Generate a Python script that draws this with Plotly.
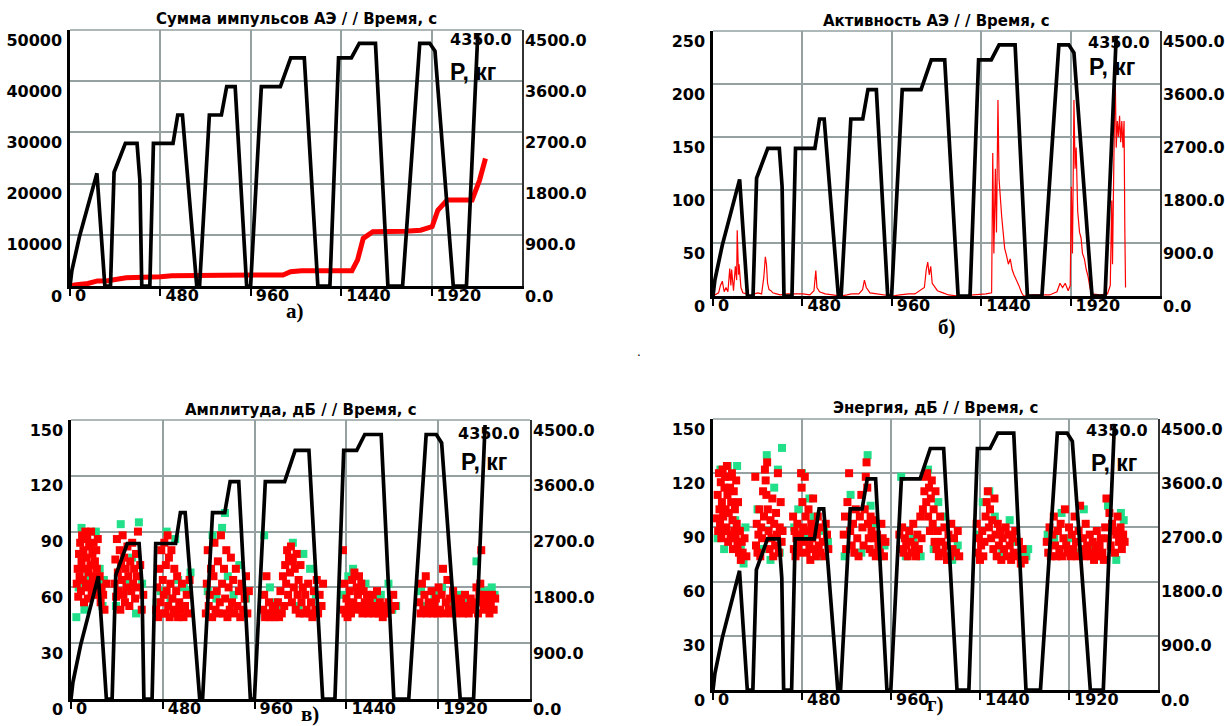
import plotly.graph_objects as go

W, H = 1225, 726

# ---------------- data ----------------
time_ticks = [0, 480, 960, 1440, 1920]
time_ticktext = ["0", "480", "960", "1440", "1920"]

load_ticks = [0, 900, 1800, 2700, 3600, 4500]
load_ticktext = ["0.0", "900.0", "1800.0", "2700.0", "3600.0", "4500.0"]

# load curve P (kg) vs time (s) -- same in every panel
load_t = [0, 10, 50, 143, 185, 215, 234, 294, 356, 371, 381, 424, 443, 547, 572, 597, 673,
          688, 740, 804, 832, 877, 938, 959, 1016, 1117, 1172, 1244, 1316, 1380, 1426, 1494,
          1536, 1622, 1688, 1766, 1857, 1910, 1938, 2035, 2105, 2165]
load_p = [0, 270, 865, 1980, 0, 0, 2000, 2508, 2508, 1860, 0, 0, 2508, 2508, 3006, 3006, 0,
          0, 3006, 3006, 3506, 3506, 0, 0, 3506, 3506, 4010, 4010, 0, 0, 4010, 4010,
          4266, 4266, 0, 0, 4266, 4266, 4130, 0, 0, 4420]

# a) cumulative AE pulse count
sum_t = [0, 24, 95, 146, 200, 298, 481, 540, 806, 1131, 1171, 1230, 1497, 1527, 1557, 1608,
         1780, 1862, 1923, 1953, 2003, 2135, 2175, 2206]
sum_v = [0, 200, 500, 1000, 1040, 1600, 1800, 2000, 2100, 2150, 2800, 3000, 3000, 5100, 9300,
         10600, 10700, 10900, 11600, 14800, 16800, 16800, 20700, 24900]

# b) AE activity
act_t = [0, 20, 30, 40, 50, 60, 70, 80, 90, 96, 100, 110, 120, 127, 130, 137, 140, 150, 160,
         180, 200, 221, 241, 261, 273, 281, 287, 293, 301, 311, 321, 341, 361, 400, 442, 482,
         520, 542, 552, 558, 572, 602, 642, 683, 720, 743, 783, 803, 813, 823, 843, 884, 924,
         960, 1004, 1050, 1084, 1135, 1145, 1153, 1161, 1169, 1177, 1185, 1205, 1235, 1265,
         1320, 1406, 1440, 1466, 1496, 1502, 1508, 1516, 1522, 1530, 1536, 1542, 1550, 1558,
         1566, 1576, 1586, 1596, 1606, 1616, 1630, 1642, 1657, 1668, 1720, 1807, 1847, 1863,
         1877, 1891, 1907, 1918, 1924, 1930, 1938, 1944, 1950, 1958, 1968, 1976, 1984, 1994,
         2004, 2014, 2024, 2032, 2080, 2118, 2133, 2141, 2145, 2153, 2159, 2165, 2171, 2177,
         2183, 2189, 2195, 2201, 2207, 2211, 2215]
act_v = [0, 2, 3, 10, 14, 4, 8, 4, 26, 10, 25, 5, 28, 15, 62, 20, 30, 8, 3,
         2, 0, 2, 3, 2, 18, 37, 30, 12, 6, 5, 3, 2, 1, 2, 2, 2,
         1, 5, 24, 8, 4, 2, 1, 0, 1, 2, 2, 6, 15, 8, 3, 2, 1,
         0, 1, 2, 2, 8, 25, 32, 20, 28, 12, 10, 5, 3, 1,
         0, 1, 2, 2, 3, 135, 40, 120, 60, 185, 110, 90, 75, 60,
         45, 38, 30, 35, 25, 20, 15, 10, 3, 0, 1, 1, 4, 12,
         8, 12, 5, 10, 103, 40, 185, 120, 140, 80, 60, 55, 40, 35,
         25, 18, 8, 2, 1, 2, 10, 90, 30, 150, 215, 140, 165, 150,
         170, 145, 165, 140, 165, 65, 8]

# c) amplitude, dB  (red / green events)
amp_red = [
    (30, 62), (35, 70), (38, 55), (42, 78), (45, 66), (48, 84), (52, 58), (55, 74), (58, 88), (62, 64),
    (65, 80), (68, 52), (72, 70), (75, 90), (78, 60), (82, 76), (85, 86), (88, 54), (92, 68), (95, 82),
    (98, 62), (102, 72), (105, 90), (108, 58), (112, 78), (115, 66), (118, 84), (122, 56), (125, 74),
    (128, 62), (132, 80), (135, 70), (140, 86), (145, 58), (150, 66), (155, 52), (160, 60), (168, 56),
    (175, 48), (185, 62),
    (228, 62), (232, 75), (236, 55), (240, 86), (245, 68), (250, 58), (255, 80), (258, 48), (262, 72),
    (266, 64), (270, 88), (274, 56), (278, 76), (282, 52), (286, 70), (290, 60), (295, 82), (300, 66),
    (305, 50), (310, 74), (315, 58), (320, 84), (325, 62), (330, 70), (335, 54), (340, 78), (345, 66),
    (350, 90), (355, 60), (362, 72), (370, 48), (378, 56),
    (445, 48), (450, 60), (455, 44), (462, 70), (468, 52), (472, 80), (476, 46), (480, 64), (485, 56),
    (488, 84), (492, 46), (496, 72), (500, 58), (505, 88), (508, 50), (512, 76), (516, 44), (520, 62),
    (525, 80), (530, 54), (535, 46), (540, 70), (545, 48), (550, 58), (555, 66), (560, 44), (566, 52),
    (572, 48), (580, 62), (588, 44), (596, 50), (605, 56), (612, 46), (620, 64),
    (705, 46), (710, 62), (715, 80), (720, 50), (725, 56), (732, 70), (738, 44), (745, 66), (750, 84),
    (756, 48), (762, 58), (768, 74), (772, 46), (778, 52), (784, 88), (790, 62), (795, 46), (800, 70),
    (806, 54), (812, 80), (818, 44), (824, 60), (830, 48), (836, 76), (842, 52), (848, 64), (855, 46),
    (862, 70), (870, 50), (878, 58), (885, 44), (892, 62), (900, 48), (908, 54), (915, 66), (922, 46),
    (930, 58),
    (1005, 48), (1010, 56), (1015, 44), (1022, 66), (1028, 46), (1035, 52), (1042, 44), (1048, 46),
    (1055, 50), (1062, 44), (1068, 48), (1075, 46), (1082, 52), (1088, 44), (1095, 58), (1102, 46),
    (1108, 66), (1115, 50), (1120, 72), (1125, 62), (1130, 80), (1135, 56), (1140, 76), (1145, 68),
    (1150, 82), (1155, 52), (1160, 74), (1165, 60), (1170, 70), (1175, 48), (1180, 78), (1185, 56),
    (1190, 64), (1195, 46), (1200, 72), (1205, 52), (1212, 60), (1218, 46), (1225, 56), (1232, 48),
    (1240, 62), (1248, 46), (1255, 52), (1262, 44), (1270, 58), (1278, 48), (1285, 64), (1292, 46),
    (1300, 56), (1310, 50), (1318, 62),
    (1422, 80), (1426, 48), (1430, 62), (1435, 46), (1440, 54), (1446, 44), (1452, 50), (1458, 58),
    (1464, 46), (1470, 64), (1476, 52), (1482, 68), (1488, 48), (1494, 60), (1500, 56), (1506, 66),
    (1512, 50), (1518, 62), (1524, 46), (1530, 58), (1536, 52), (1542, 48), (1548, 56), (1555, 46),
    (1562, 52), (1570, 48), (1578, 56), (1585, 46), (1592, 50), (1600, 58), (1608, 46), (1615, 52),
    (1622, 48), (1630, 44), (1640, 50), (1650, 46), (1660, 52), (1672, 48), (1685, 56), (1695, 50),
    (1822, 52), (1828, 46), (1835, 62), (1842, 48), (1848, 56), (1855, 66), (1862, 46), (1870, 52),
    (1878, 48), (1885, 58), (1892, 46), (1900, 50), (1908, 54), (1915, 46), (1922, 60), (1930, 48),
    (1938, 56), (1945, 70), (1952, 46), (1960, 52), (1968, 64), (1975, 48), (1982, 54), (1990, 46),
    (1998, 58), (2005, 50), (2012, 46), (2020, 54), (2030, 48), (2040, 52), (2050, 46), (2060, 56),
    (2070, 50), (2080, 46), (2090, 54), (2100, 48), (2110, 52), (2120, 60), (2128, 46), (2135, 56),
    (2140, 62), (2145, 80), (2150, 52), (2158, 48), (2165, 56), (2172, 50), (2180, 54), (2188, 46),
    (2195, 52), (2202, 56), (2210, 48), (2218, 54),
]
amp_green = [
    (28, 44), (40, 60), (55, 92), (70, 48), (90, 66), (110, 56), (130, 90), (150, 70), (165, 50), (172, 64),
    (235, 50), (260, 94), (285, 64), (300, 58), (320, 76), (340, 46), (355, 95), (372, 62),
    (448, 52), (470, 58), (500, 90), (520, 54), (545, 86), (560, 64), (590, 60), (610, 58), (625, 68),
    (715, 58), (740, 88), (760, 54), (790, 92), (805, 100), (820, 66), (850, 56), (880, 72), (915, 54),
    (1010, 88), (1040, 60), (1070, 52), (1100, 48), (1160, 84), (1190, 50), (1215, 78), (1250, 70),
    (1280, 56), (1300, 50),
    (1425, 56), (1450, 66), (1475, 70), (1500, 58), (1540, 62), (1580, 54), (1620, 56), (1660, 62),
    (1680, 48), (1700, 50),
    (1830, 58), (1860, 50), (1900, 56), (1940, 60), (1990, 52), (2030, 56), (2080, 52), (2120, 74),
    (2160, 58), (2200, 60), (2215, 56),
]

# d) energy, dB  (red / green events)
en_red = [
    (22, 95), (25, 108), (28, 88), (32, 120), (35, 100), (38, 92), (42, 115), (45, 84), (48, 104),
    (52, 122), (55, 96), (58, 88), (62, 112), (65, 118), (68, 100), (72, 90), (75, 124), (78, 108),
    (82, 82), (85, 98), (88, 118), (92, 112), (95, 86), (98, 104), (102, 120), (105, 94), (108, 78),
    (112, 110), (115, 88), (118, 100), (122, 84), (125, 116), (128, 92), (132, 80), (135, 104),
    (140, 76), (145, 88), (150, 72), (155, 82), (160, 76), (170, 84), (180, 74),
    (228, 118), (232, 80), (236, 92), (240, 76), (245, 86), (250, 100), (255, 74), (260, 90), (265, 84),
    (270, 110), (275, 96), (280, 122), (284, 116), (288, 108), (292, 126), (296, 100), (300, 88),
    (305, 78), (310, 94), (315, 84), (320, 106), (325, 74), (330, 92), (335, 80), (340, 98), (345, 86),
    (350, 120), (355, 76), (360, 90), (365, 104), (370, 82), (375, 88),
    (432, 96), (436, 78), (440, 88), (445, 74), (450, 84), (455, 92), (460, 80), (465, 76), (470, 86),
    (475, 120), (478, 112), (482, 104), (486, 90), (490, 82), (495, 118), (500, 96), (505, 76),
    (510, 88), (515, 100), (520, 80), (525, 72), (530, 92), (535, 84), (540, 106), (545, 78), (550, 88),
    (555, 74), (560, 86), (565, 96), (570, 80), (578, 76), (585, 90), (592, 82), (600, 74), (608, 92),
    (615, 86), (622, 78),
    (705, 86), (712, 96), (718, 78), (725, 104), (734, 120), (740, 88), (748, 80), (755, 92), (762, 76),
    (770, 100), (778, 84), (785, 74), (792, 96), (800, 108), (806, 90), (812, 80), (818, 100),
    (824, 118), (828, 126), (832, 112), (836, 92), (840, 84), (845, 78), (850, 96), (855, 88),
    (860, 76), (866, 84), (872, 94), (878, 74), (885, 86), (892, 80), (900, 76), (908, 92), (915, 84),
    (922, 74), (930, 82),
    (1005, 86), (1012, 78), (1020, 90), (1028, 76), (1035, 84), (1042, 80), (1050, 74), (1058, 88),
    (1065, 82), (1072, 76), (1080, 92), (1088, 80), (1095, 74), (1102, 86), (1110, 78), (1118, 96),
    (1125, 84), (1132, 100), (1140, 110), (1145, 118), (1150, 104), (1155, 120), (1160, 96),
    (1165, 112), (1170, 88), (1175, 106), (1180, 116), (1185, 92), (1190, 100), (1195, 82),
    (1200, 110), (1205, 78), (1212, 88), (1218, 74), (1225, 96), (1232, 82), (1240, 76), (1248, 90),
    (1255, 80), (1262, 72), (1270, 86), (1278, 74), (1285, 92), (1292, 78), (1300, 84), (1310, 76),
    (1320, 88), (1328, 74),
    (1422, 92), (1428, 76), (1434, 84), (1440, 72), (1446, 80), (1452, 88), (1458, 74), (1464, 82),
    (1470, 96), (1476, 104), (1482, 110), (1488, 90), (1494, 100), (1500, 84), (1506, 94), (1512, 78),
    (1518, 106), (1524, 86), (1530, 74), (1536, 92), (1542, 80), (1548, 88), (1555, 72), (1562, 84),
    (1570, 78), (1578, 90), (1585, 74), (1592, 86), (1600, 80), (1608, 72), (1615, 84), (1622, 76),
    (1630, 88), (1640, 74), (1650, 82), (1660, 70), (1670, 78), (1680, 72),
    (1800, 82), (1808, 76), (1815, 90), (1822, 74), (1830, 86), (1838, 96), (1845, 80), (1852, 74),
    (1860, 88), (1868, 78), (1875, 92), (1882, 74), (1890, 84), (1898, 100), (1905, 80), (1912, 76),
    (1920, 90), (1928, 74), (1935, 86), (1942, 78), (1950, 96), (1958, 82), (1965, 74), (1972, 88),
    (1980, 102), (1988, 78), (1995, 84), (2002, 74), (2010, 92), (2018, 80), (2025, 76), (2032, 86),
    (2040, 74), (2048, 82), (2055, 72), (2062, 78), (2070, 88), (2078, 74), (2085, 80), (2092, 84),
    (2100, 76), (2108, 72), (2115, 90), (2122, 106), (2130, 84), (2138, 98), (2145, 80), (2152, 92),
    (2160, 88), (2168, 76), (2175, 86), (2182, 96), (2190, 82), (2198, 90), (2205, 78), (2212, 86),
    (2220, 82),
]
en_green = [
    (25, 84), (40, 122), (60, 78), (80, 124), (100, 86), (120, 94), (130, 124), (150, 80), (165, 70), (175, 90),
    (240, 100), (265, 78), (290, 130), (310, 72), (330, 112), (350, 122), (372, 134), (360, 76),
    (438, 90), (460, 100), (480, 120), (500, 84), (520, 106), (545, 96), (570, 74), (600, 88), (620, 82),
    (710, 74), (742, 108), (770, 76), (800, 76), (834, 130), (850, 102), (880, 92), (905, 74), (925, 80),
    (1015, 118), (1040, 74), (1080, 84), (1120, 74), (1160, 122), (1190, 78), (1215, 104), (1250, 96),
    (1290, 72), (1320, 80),
    (1425, 86), (1455, 104), (1490, 110), (1520, 96), (1560, 76), (1600, 94), (1640, 82), (1665, 76),
    (1690, 74), (1700, 78),
    (1805, 86), (1840, 84), (1880, 98), (1920, 84), (1960, 76), (2000, 100), (2040, 78), (2080, 74),
    (2130, 102), (2175, 72), (2200, 98), (2215, 94),
]

titles = ["Сумма импульсов АЭ / / Время, с", "Активность АЭ / / Время, с",
          "Амплитуда, дБ / / Время, с", "Энергия, дБ / / Время, с"]
left_ranges = [50000, 250, 150, 150]
left_steps = [10000, 50, 30, 30]
sub_labels = ["а)", "б)", "в)", "г)"]

# ---------------- layout geometry (pixels) ----------------
boxes = [  # left, right, top, bottom
    (70, 522, 30, 286),
    (713, 1160, 31, 296),
    (71, 530, 420, 699),
    (713, 1158, 419, 690),
]
title_y = [19, 21, 410, 408]
sub_pos = [(295, 311), (947, 327), (310, 714), (936, 704)]
pkg_pos = [(473, 72), (1112, 67), (484, 462), (1114, 463)]
p4350_y = [39, 42, 433, 431]


def px(x):
    return x / W


def py(y):
    return 1 - y / H


GRID = "#95a0a0"
TICKFONT = dict(family="DejaVu Sans", size=16, color="black", weight="bold")

fig = go.Figure()
layout = dict(
    width=W, height=H, margin=dict(l=0, r=0, t=0, b=0, pad=0, autoexpand=False),
    paper_bgcolor="white", plot_bgcolor="white", showlegend=False,
)
annotations = []
shapes = []

for i in range(4):
    l, r, t, b = boxes[i]
    xn = "" if i == 0 else str(i + 1)
    yl = str(2 * i + 1) if i > 0 else ""
    yr = str(2 * i + 2)
    xa = "xaxis" + xn
    yla = "yaxis" + yl
    yra = "yaxis" + yr
    layout[xa] = dict(
        domain=[px(l), px(r)], range=[0, 2400], anchor="y" + yl, automargin=False,
        tickvals=time_ticks, ticktext=time_ticktext,
        ticks="outside", ticklen=7, tickwidth=1.5, tickcolor="black",
        ticklabelposition="outside right", ticklabelshift=3, ticklabelstandoff=-7,
        showgrid=True, gridcolor=GRID, gridwidth=1.5,
        showline=True, linecolor="black", linewidth=2.5,
        zeroline=False, tickfont=TICKFONT, fixedrange=True,
    )
    lr = left_ranges[i]
    st = left_steps[i]
    lt = [k * st for k in range(6)]
    layout[yla] = dict(
        domain=[py(b), py(t)], range=[0, lr], anchor="x" + xn, automargin=False,
        tickvals=lt, ticktext=[str(v) for v in lt],
        ticks="", ticklabelshift=10, ticklabelstandoff=2,
        showgrid=True, gridcolor=GRID, gridwidth=1.5,
        showline=True, linecolor="black", linewidth=2.5,
        zeroline=False, tickfont=TICKFONT, fixedrange=True,
    )
    layout[yra] = dict(
        overlaying="y" + yl, side="right", anchor="x" + xn, range=[0, 4500], automargin=False,
        tickvals=load_ticks, ticktext=load_ticktext,
        ticks="", ticklabelshift=10, ticklabelstandoff=-2,
        showgrid=False, showline=True, linecolor="#333333", linewidth=1.5,
        zeroline=False, tickfont=TICKFONT, fixedrange=True,
    )
    # top border (grey, like the grid)
    shapes.append(dict(type="line", xref="x" + xn + " domain", yref="y" + yl + " domain",
                       x0=0, x1=1, y0=1, y1=1, line=dict(color=GRID, width=1.5)))

    # data traces on the left axis
    if i == 0:
        fig.add_trace(go.Scatter(x=sum_t, y=sum_v, mode="lines", xaxis="x" + xn, yaxis="y" + yl,
                                 line=dict(color="#ff0000", width=5)))
    elif i == 1:
        fig.add_trace(go.Scatter(x=act_t, y=act_v, mode="lines", xaxis="x" + xn, yaxis="y" + yl,
                                 line=dict(color="#ff0000", width=1.2)))
    else:
        red = amp_red if i == 2 else en_red
        green = amp_green if i == 2 else en_green
        fig.add_trace(go.Scatter(x=[p[0] for p in green], y=[p[1] for p in green], mode="markers",
                                 xaxis="x" + xn, yaxis="y" + yl,
                                 marker=dict(symbol="square", size=8, color="#22e08a", line=dict(width=0))))
        fig.add_trace(go.Scatter(x=[p[0] for p in red], y=[p[1] for p in red], mode="markers",
                                 xaxis="x" + xn, yaxis="y" + yl,
                                 marker=dict(symbol="square", size=8, color="#ff0000", line=dict(width=0))))
    # load curve on the right axis
    fig.add_trace(go.Scatter(x=load_t, y=load_p, mode="lines", xaxis="x" + xn, yaxis="y" + yr,
                             line=dict(color="black", width=3.7)))

    # texts
    annotations.append(dict(text=titles[i], x=px((l + r) / 2), y=py(title_y[i]), xref="paper",
                            yref="paper", showarrow=False, xanchor="center", yanchor="middle",
                            font=dict(family="DejaVu Sans", size=15, color="black", weight="bold")))
    annotations.append(dict(text="4350.0", x=px(r - 8), y=py(p4350_y[i]), xref="paper", yref="paper",
                            showarrow=False, xanchor="right", yanchor="middle", font=TICKFONT))
    annotations.append(dict(text="P, кг", x=px(pkg_pos[i][0]), y=py(pkg_pos[i][1]), xref="paper",
                            yref="paper", showarrow=False, xanchor="center", yanchor="middle",
                            font=dict(family="Liberation Sans", size=23, color="black", weight="bold")))
    annotations.append(dict(text=sub_labels[i], x=px(sub_pos[i][0]), y=py(sub_pos[i][1]), xref="paper",
                            yref="paper", showarrow=False, xanchor="center", yanchor="middle",
                            font=dict(family="Liberation Serif", size=21, color="black", weight="bold")))

annotations.append(dict(text=".", x=px(639), y=py(352), xref="paper", yref="paper", showarrow=False,
                        font=dict(family="DejaVu Sans", size=12, color="black")))

layout["annotations"] = annotations
layout["shapes"] = shapes
fig.update_layout(**layout)
fig.write_html("out.html")
